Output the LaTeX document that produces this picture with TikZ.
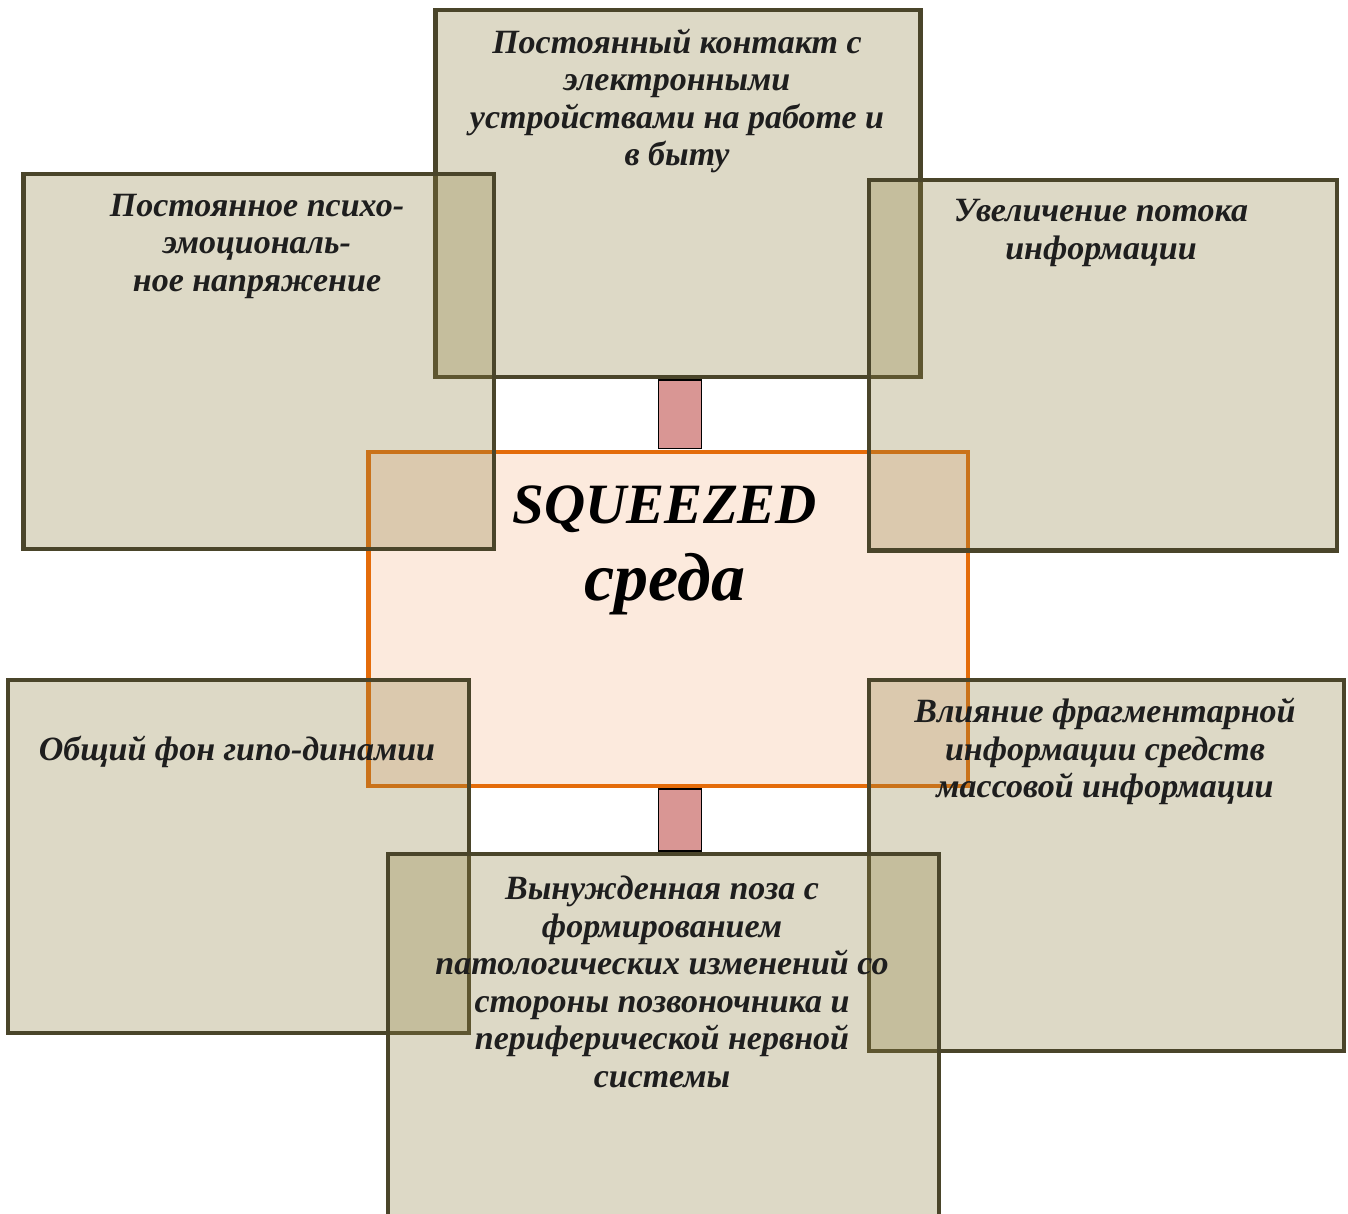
\documentclass[tikz,border=0pt]{standalone}
\usepackage{fontspec}
\setmainfont{Liberation Serif}
\definecolor{boxline}{RGB}{74,69,42}
\definecolor{boxfill}{RGB}{142,128,65}
\definecolor{ctrline}{RGB}{228,108,10}
\definecolor{ctrfill}{RGB}{245,170,120}
\definecolor{pinkfill}{RGB}{217,150,148}
\definecolor{txt}{RGB}{30,30,30}
\begin{document}
\begin{tikzpicture}[x=1pt,y=-1pt,
  panel/.style={rectangle, draw=boxline, line width=4.6pt, fill=boxfill, fill opacity=0.3, draw opacity=1, inner sep=0, outer sep=0},
  hub/.style={rectangle, draw=ctrline, line width=4.6pt, fill=ctrfill, fill opacity=0.25, draw opacity=1, inner sep=0, outer sep=0},
  link/.style={rectangle, draw=black, line width=1.2pt, fill=pinkfill, inner sep=0, outer sep=0},
  lbl/.style={align=center, text=txt, inner sep=0, font=\fontsize{34}{37.5}\selectfont\bfseries\itshape},
  hublbl/.style={align=center, text=black, inner sep=0, font=\bfseries\itshape}]
\useasboundingbox (0,0) rectangle (1348,1213);
\clip (0,0) rectangle (1348,1213);
% centre
\node[hub, minimum width=599.7, minimum height=334] (hubbox) at (668.15,619) {};
% panels
\node[panel, minimum width=484.8, minimum height=367.2] (ptop) at (678.1,193.4) {};
\node[panel, minimum width=470.5, minimum height=375] (pleft) at (258.75,361.5) {};
\node[panel, minimum width=468, minimum height=370.7] (pright) at (1103,365.35) {};
\node[panel, minimum width=461, minimum height=353] (pbl) at (238.5,856.5) {};
\node[panel, minimum width=475, minimum height=371] (pbr) at (1106.5,865.5) {};
\node[panel, minimum width=551, minimum height=380] (pbot) at (663.5,1044) {};
% links
\node[link, minimum width=43.4, minimum height=68.7] (ltop) at (680,414.35) {};
\node[link, minimum width=43.4, minimum height=62] (lbot) at (680,820) {};
% texts
\node[lbl] (ttop) at (677,101) {Постоянный контакт с\\электронными\\устройствами на работе и\\в быту};
\node[lbl] (tleft) at (257,246) {Постоянное психо-\\эмоциональ-\\ное напряжение};
\node[lbl] (tright) at (1101,233) {Увеличение потока\\информации};
\node[lbl] (tbl) at (237,752) {Общий фон гипо-динамии};
\node[lbl] (tbr) at (1105,751.5) {Влияние фрагментарной\\информации средств\\массовой информации};
\node[lbl] (tbot) at (662,982) {Вынужденная поза с\\формированием\\патологических изменений со\\стороны позвоночника и\\периферической нервной\\системы};
\node[hublbl, anchor=base] (thub1) at (665,523) {\fontsize{57}{60}\selectfont SQUEEZED};
\node[hublbl, anchor=base] (thub2) at (665,600) {\fontsize{68}{72}\selectfont среда};
\end{tikzpicture}
\end{document}
